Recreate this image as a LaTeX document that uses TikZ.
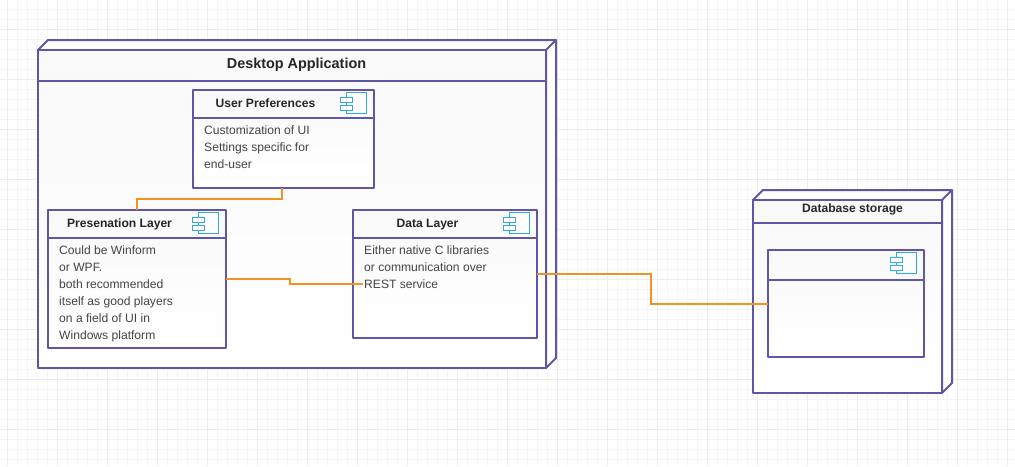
\documentclass[tikz,border=0pt]{standalone}
\usepackage{fontspec}
\setmainfont{Liberation Sans}
\definecolor{lineP}{HTML}{5E57A6}
\definecolor{lineO}{HTML}{F59121}
\definecolor{iconB}{HTML}{2FA9E8}
\definecolor{gridF}{HTML}{F5F5F5}
\definecolor{gridM}{HTML}{EDEDED}
\definecolor{fillN}{HTML}{F9F9F9}
\definecolor{txt}{HTML}{444444}
\tikzset{
  x=1pt,y=-1pt,
  outl/.style={draw=lineP,line width=2pt,line join=round},
  wire/.style={draw=lineO,line width=2pt},
  icon/.style={draw=iconB,line width=1pt,fill=white},
  title/.style={font=\fontsize{12.1}{15}\selectfont\bfseries,text=black!85,inner sep=0pt,anchor=base},
  body/.style={font=\fontsize{12.1}{17}\selectfont,text=txt,inner sep=0pt,align=left,anchor=north west},
  box/.style={outl,top color=fillN,bottom color=white,rectangle,inner sep=0pt,outer sep=0pt,anchor=north west},
  headbox/.style={outl,fill=fillN,rectangle,inner sep=0pt,outer sep=0pt,anchor=north west},
}
\newcommand{\compicon}[2]{%
  \draw[icon] (#1+6,#2) rectangle (#1+26,#2+21);
  \draw[icon] (#1,#2+5) rectangle (#1+12,#2+10);
  \draw[icon] (#1,#2+13) rectangle (#1+12,#2+18);
}
\begin{document}
\begin{tikzpicture}
\useasboundingbox (0,0) rectangle (1015,466);
\fill[white] (0,0) rectangle (1015,466);
\foreach \gx in {7.5,17.5,...,1010} \draw[gridF,line width=1pt] (\gx,0) -- (\gx,466);
\foreach \gy in {9.5,19.5,...,460} \draw[gridF,line width=1pt] (0,\gy) -- (1015,\gy);
\foreach \gx in {7.5,57.5,...,1010} \draw[gridM,line width=1pt] (\gx,0) -- (\gx,466);
\foreach \gy in {29.5,79.5,...,460} \draw[gridM,line width=1pt] (0,\gy) -- (1015,\gy);

% Desktop application
\coordinate (appTR) at (556,40); \coordinate (appTL) at (48,40); \coordinate (appBR) at (556,358);
\node[box,minimum width=508pt,minimum height=318pt] (app) at (38,50) {};
\draw[outl,fill=white] (app.north west) -- (appTL) -- (appTR) -- (appBR) -- (app.south east) -- (app.north east) -- cycle;
\draw[outl] (app.north east) -- (appTR);
\node[headbox,minimum width=508pt,minimum height=31pt] (appHead) at (38,50) {};
\node[title,font=\fontsize{14.4}{17}\selectfont\bfseries] (appTitle) at (296.5,68.3) {Desktop Application};

% Database storage
\coordinate (dbTR) at (952,190); \coordinate (dbTL) at (763,190); \coordinate (dbBR) at (952,383);
\node[box,minimum width=189pt,minimum height=193pt] (db) at (753,200) {};
\draw[outl,fill=white] (db.north west) -- (dbTL) -- (dbTR) -- (dbBR) -- (db.south east) -- (db.north east) -- cycle;
\draw[outl] (db.north east) -- (dbTR);
\node[headbox,minimum width=189pt,minimum height=23pt] (dbHead) at (753,200) {};
\node[title] (dbTitle) at (852.5,212.3) {Database storage};

% components
\node[box,minimum width=181pt,minimum height=98pt] (up) at (193,90) {};
\node[box,minimum width=178pt,minimum height=138pt] (pl) at (48,210) {};
\node[box,minimum width=184pt,minimum height=128pt] (dl) at (353,210) {};
\node[box,minimum width=156pt,minimum height=107pt] (dbc) at (768,250) {};
\draw[outl] (up.west |- 0,118) -- (up.east |- 0,118);
\draw[outl] (pl.west |- 0,238) -- (pl.east |- 0,238);
\draw[outl] (dl.west |- 0,238) -- (dl.east |- 0,238);
\draw[outl] (dbc.west |- 0,280) -- (dbc.east |- 0,280);

\node[title] (upT) at (265.5,107.3) {User Preferences};
\node[title] (plT) at (119.5,227.3) {Presenation Layer};
\node[title] (dlT) at (427.5,227.3) {Data Layer};

\node[body] (upB) at (204,126) {Customization of UI\\Settings specific for\\end-user};
\node[body] (plB) at (59,246) {Could be Winform\\or WPF.\\both recommended\\itself as good players\\on a field of UI in\\Windows platform};
\node[body] (dlB) at (364,246) {Either native C libraries\\or communication over\\REST service};

\compicon{340.5}{92.5}
\compicon{192.5}{212.5}
\compicon{503.5}{212.5}
\compicon{890.5}{252.5}

\coordinate (w1) at (363,284);
\draw[wire] ([xshift=-1.5pt]up.south) -- ++(0,11) -| (pl.north);
\draw[wire] (pl.east) -- ++(64,0) |- (w1);
\draw[wire] (dl.east) -- ++(114,0) |- ([yshift=-0.5pt]dbc.west);
\end{tikzpicture}
\end{document}
